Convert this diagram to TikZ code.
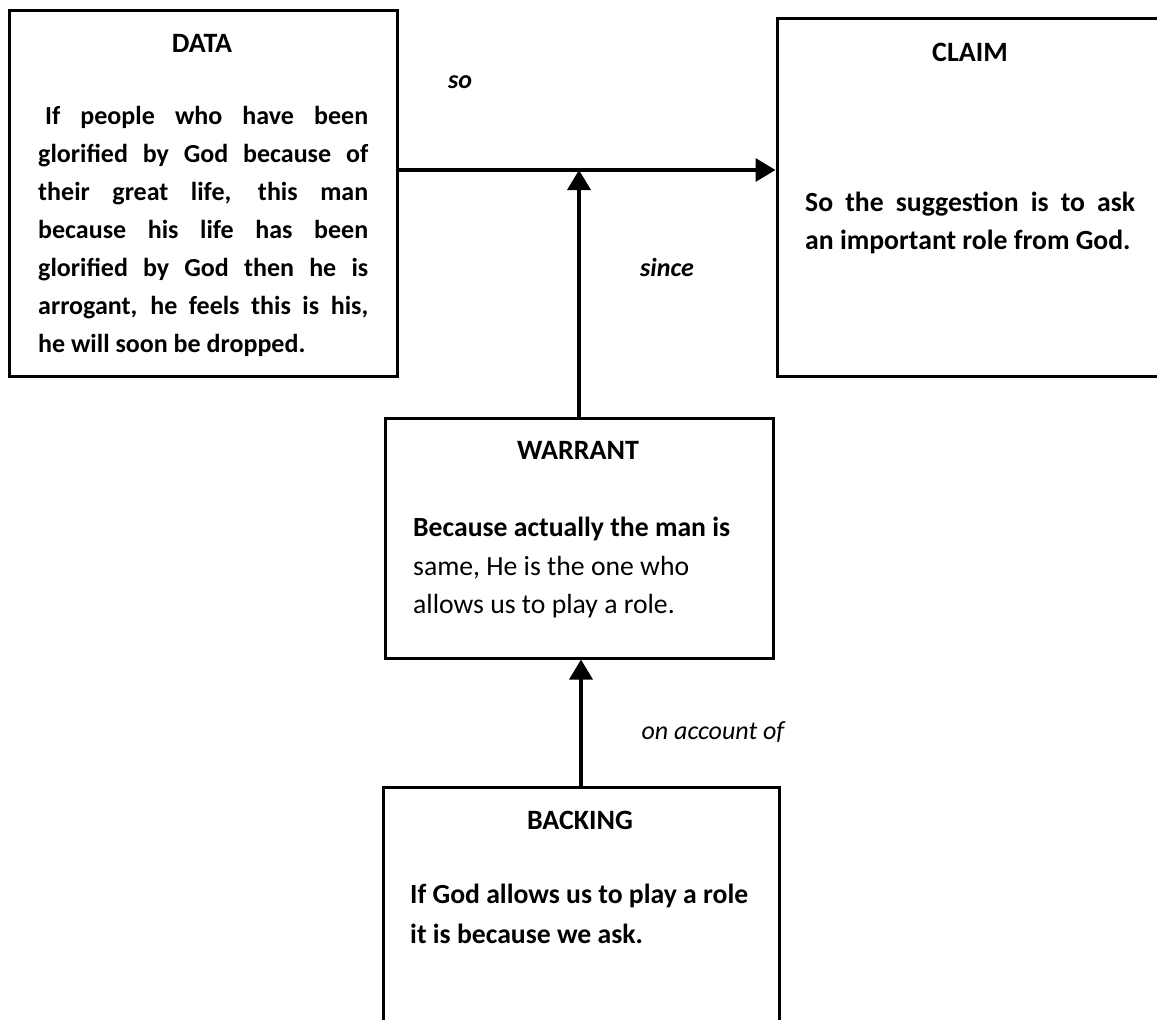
\documentclass[tikz,border=0pt]{standalone}
\usepackage{fontspec}
\setmainfont{Carlito}
\usetikzlibrary{arrows.meta}
\newcommand{\fullline}[1]{\makebox[330pt][s]{#1}}

\begin{document}
\begin{tikzpicture}[x=1pt, y=-1pt,
    box/.style={draw=black, line width=3pt, inner sep=0pt},
    heading/.style={font=\fontsize{28}{34}\selectfont\bfseries, inner sep=0pt},
    body/.style={font=\fontsize{27.7}{38.5}\selectfont\bfseries, text width=330pt, align=flush left, inner sep=0pt, anchor=north west},
    link/.style={line width=3.5pt, -{Triangle[width=23pt,length=20pt]}},
    linklabel/.style={font=\fontsize{26}{30}\selectfont\itshape, inner sep=0pt}]
    \useasboundingbox (0,0) rectangle (1157,1020);
    \clip (0,0) rectangle (1157,1020);

    % boxes
    \node[box, minimum width=388pt, minimum height=366pt] (data) at (203,193) {};
    \node[box, minimum width=400pt, minimum height=358pt] (claim) at (977,197) {};
    \node[box, minimum width=388pt, minimum height=240pt] (warrant) at (579,538) {};
    \node[box, minimum width=396pt, minimum height=253pt] (backing) at (581,913.5) {};

    % headings
    \node[heading] (datatitle) at (202,43) {DATA};
    \node[heading] (claimtitle) at (970,52) {CLAIM};
    \node[heading] (warranttitle) at (578,450) {WARRANT};
    \node[heading] (backingtitle) at (580,820) {BACKING};

    % texts
    \node[body, font=\fontsize{26}{38}\selectfont\bfseries] (datatext) at (38,106) {
        \fullline{\kern7pt If people who have been}\\
        \fullline{glorified by God because of}\\
        \fullline{their great life, this man}\\
        \fullline{because his life has been}\\
        \fullline{glorified by God then he is}\\
        \fullline{arrogant, he feels this is his,}\\
        he will soon be dropped.
    };
    \node[body] (claimtext) at (805,191.5) {
        \fullline{So the suggestion is to ask}\\
        an important role from God.
    };
    \node[body] (warranttext) at (413,517) {
        Because actually the man is\\
        \textmd{same, He is the one who}\\
        \textmd{allows us to play a role.}
    };
    \node[body, text width=345pt, font=\fontsize{27.7}{40}\selectfont\bfseries] (backingtext) at (410,884) {
        If God allows us to play a role\\
        it is because we ask.
    };

    % connectors
    \coordinate (soline) at (0,170);
    \draw[link] (data.east |- soline) -- (claim.west |- soline);
    \draw[link] (warrant.north) -- (warrant.north |- soline);
    \draw[link] (backing.north) -- (backing.north |- warrant.south);

    \node[linklabel, font=\fontsize{26}{30}\selectfont\bfseries\itshape] (solabel) at (460,82) {so};
    \node[linklabel, font=\fontsize{26}{30}\selectfont\bfseries\itshape] (sincelabel) at (667,267) {since};
    \node[linklabel] (accountlabel) at (713,732) {on account of};
\end{tikzpicture}
\end{document}
